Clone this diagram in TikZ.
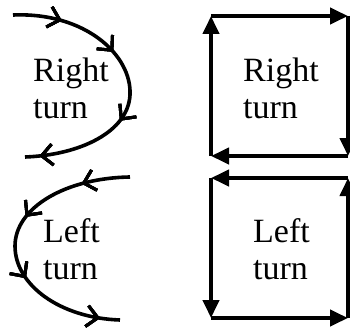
\documentclass[tikz,border=0pt]{standalone}
\usepackage{fontspec}
\setmainfont{Liberation Serif}
\usetikzlibrary{arrows.meta, decorations.markings}

\begin{document}
\begin{tikzpicture}[
    x=1pt, y=-1pt,
    label/.style={align=left, anchor=west, inner sep=0pt, font=\fontsize{34}{37}\selectfont},
    curve/.style={line width=3.6pt},
    edge/.style={line width=4pt, -{Triangle[length=18pt, width=16pt]}},
    barb/.style={decoration={markings, mark=at position #1 with {\arrow[line width=3pt]{Straight Barb[length=11pt, width=21pt]}}}, postaction={decorate}}
]
\useasboundingbox (0,0) rectangle (350,329);
\clip (0,0) rectangle (350,329);

% Labels
\node[label] (rcurve) at (33,88) {Right\\turn};
\node[label] (lcurve) at (43,249) {Left\\turn};
\node[label] (rbox) at (243,88) {Right\\turn};
\node[label] (lbox) at (253,249) {Left\\turn};

% Curve end points
\coordinate (rstart) at (13,15);
\coordinate (rmid) at (130,95);
\coordinate (rend) at (25,157);
\coordinate (lstart) at (130,177);
\coordinate (lmid) at (15,246);
\coordinate (lend) at (120,320);

% Curves
\draw[curve, barb=0.17, barb=0.38, barb=0.64, barb=0.95]
    (rstart) .. controls (85,12) and (132,55) .. (rmid)
    .. controls (128,132) and (80,155) .. (rend);
\draw[curve, barb=0.17, barb=0.4, barb=0.63, barb=0.93]
    (lstart) .. controls (65,178) and (15,208) .. (lmid)
    .. controls (15,285) and (60,318) .. (lend);

% Square corners
\coordinate (a1) at (211,16);
\coordinate (a2) at (348,16);
\coordinate (a3) at (348,156);
\coordinate (a4) at (211,156);
\coordinate (b1) at (211,178);
\coordinate (b2) at (348,178);
\coordinate (b3) at (348,318);
\coordinate (b4) at (211,318);

% Right turn square
\draw[edge] (a4) -- (a1);
\draw[edge] (a1) -- (a2);
\draw[edge] (a2) -- (a3);
\draw[edge] (a3) -- (a4);

% Left turn square
\draw[edge] (b2) -- (b1);
\draw[edge] (b1) -- (b4);
\draw[edge] (b4) -- (b3);
\draw[edge] (b3) -- (b2);

\end{tikzpicture}
\end{document}
